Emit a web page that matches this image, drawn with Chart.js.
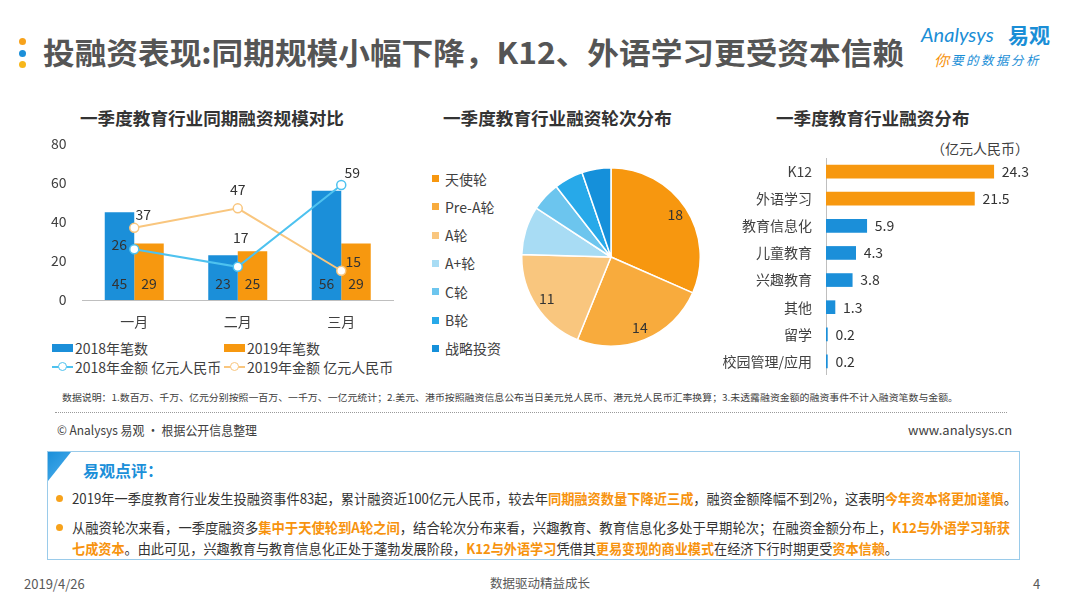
<!DOCTYPE html>
<html><head><meta charset="utf-8">
<script src="https://cdn.jsdelivr.net/npm/chart.js@4.4.0/dist/chart.umd.min.js"></script>
<style>
html,body{margin:0;padding:0;width:1080px;height:607px;background:#fff;overflow:hidden;font-family:"Noto Sans CJK SC","Noto Sans",sans-serif;color:#404040;}
.a{position:absolute;white-space:nowrap;line-height:1;}
.vc{transform-origin:left center;}
.dot{position:absolute;width:7px;height:7px;border-radius:50%;}
.sub{font-weight:bold;font-size:17.6px;color:#333;}
.hl{color:#F7930E;font-weight:bold;}
canvas{position:absolute;}
</style></head><body>

<!-- header -->
<div class="dot" style="left:19px;top:38px;background:#F7A21B"></div>
<div class="dot" style="left:19px;top:50px;background:#1B8FD9"></div>
<div class="dot" style="left:19px;top:61px;background:#F7B71B"></div>
<div id="title" class="a" style="left:43px;top:36px;font-size:30px;font-weight:bold;color:#555;">投融资表现:同期规模小幅下降，K12、外语学习更受资本信赖</div>
<div class="a" style="left:921px;top:24px;font-size:20px;color:#1A8ED6;font-style:italic;font-family:'Lato','Noto Sans',sans-serif;">Analysys</div>
<div class="a" style="left:1008px;top:24px;font-size:21px;color:#1A8ED6;font-weight:bold;">易观</div>
<div class="a" style="left:934px;top:52px;font-size:15px;color:#F7930E;font-style:italic;">你</div>
<div class="a" style="left:951px;top:54px;font-size:12.5px;color:#1A8ED6;font-style:italic;letter-spacing:2.5px;">要的数据分析</div>

<!-- subtitles -->
<div class="a sub" style="left:80px;top:109px;">一季度教育行业同期融资规模对比</div>
<div class="a sub" style="left:443px;top:109px;">一季度教育行业融资轮次分布</div>
<div class="a sub" style="left:776px;top:109px;">一季度教育行业融资分布</div>

<canvas id="cLeft" width="360" height="200" style="left:40px;top:136px;width:360px;height:200px"></canvas>
<div id="legLeft"></div>
<canvas id="cPie" width="180" height="180" style="left:521px;top:167px;width:180px;height:180px"></canvas>
<div id="legPie"></div>
<div class="a" style="left:931px;top:141px;font-size:14px;color:#404040;">（亿元人民币）</div>
<canvas id="cRight" width="340" height="217" style="left:700px;top:158px;width:340px;height:217px"></canvas>

<!-- notes -->
<div id="note" class="a vc" style="left:62px;top:393px;font-size:9.5px;color:#404040;">数据说明：1.数百万、千万、亿元分别按照一百万、一千万、一亿元统计；2.美元、港币按照融资信息公布当日美元兑人民币、港元兑人民币汇率换算；3.未透露融资金额的融资事件不计入融资笔数与金额。</div>
<div style="position:absolute;left:55px;top:412px;width:952px;border-top:1px dotted #9a9a9a;"></div>
<div id="src" class="a vc" style="left:57px;top:423px;font-size:13px;color:#404040;">© Analysys 易观 · 根据公开信息整理</div>
<div id="www" class="a" style="left:908px;top:423px;font-size:13px;color:#404040;">www.analysys.cn</div>

<!-- comment box -->
<div style="position:absolute;left:47px;top:451px;width:971px;height:107px;border:1.5px solid #9ACBEA;"></div>
<div style="position:absolute;left:48px;top:452px;width:23px;height:29px;background:linear-gradient(135deg,#1B8FD9 0%,#3AA3E6 60%,#9fd2f2 100%);clip-path:polygon(0 0,100% 0,0 100%);"></div>
<div id="cmt" class="a vc" style="left:83px;top:462px;font-size:16px;font-weight:bold;color:#1B8FD9;">易观点评：</div>
<div class="dot" style="left:56px;top:495px;background:#F7A21B"></div>
<div class="dot" style="left:56px;top:524px;background:#F7A21B"></div>
<div id="b1" class="a vc" style="left:72px;top:491px;font-size:14px;color:#333;">2019年一季度教育行业发生投融资事件83起，累计融资近100亿元人民币，较去年<span class="hl">同期融资数量下降近三成</span>，融资金额降幅不到2%，这表明<span class="hl">今年资本将更加谨慎</span>。</div>
<div id="b2" class="a vc" style="left:72px;top:520px;font-size:14px;color:#333;">从融资轮次来看，一季度融资多<span class="hl">集中于天使轮到A轮之间</span>，结合轮次分布来看，兴趣教育、教育信息化多处于早期轮次；在融资金额分布上，<span class="hl">K12与外语学习斩获</span></div>
<div id="b3" class="a vc" style="left:72px;top:541px;font-size:14px;color:#333;"><span class="hl">七成资本</span>。由此可见，兴趣教育与教育信息化正处于蓬勃发展阶段，<span class="hl">K12与外语学习</span>凭借其<span class="hl">更易变现的商业模式</span>在经济下行时期更受<span class="hl">资本信赖</span>。</div>

<!-- footer -->
<div class="a" style="left:24px;top:577px;font-size:13px;color:#595959;">2019/4/26</div>
<div class="a" style="left:490px;top:577px;font-size:12.5px;color:#595959;">数据驱动精益成长</div>
<div class="a" style="left:1033px;top:577px;font-size:13px;color:#595959;">4</div>

<script>
// ---------- data ----------
const months = ['一月','二月','三月'];
const count2018 = [45,23,56];
const count2019 = [29,25,29];
const amount2018 = [26,17,59];
const amount2019 = [37,47,15];
const seriesLabels = ['2018年笔数','2019年笔数','2018年金额 亿元人民币','2019年金额 亿元人民币'];
const leftTicks = [0,20,40,60,80];

const rounds = ['天使轮','Pre-A轮','A轮','A+轮','C轮','B轮','战略投资'];
const roundCounts = [18,14,11,5,3,3,3];

const sectors = ['K12','外语学习','教育信息化','儿童教育','兴趣教育','其他','留学','校园管理/应用'];
const sectorAmounts = [24.3,21.5,5.9,4.3,3.8,1.3,0.2,0.2];

// ---------- styles ----------
const BLUE='#1B8FD9', ORANGE='#F7980F', LBLUE='#4EC2EF', LORANGE='#F9C67E';
const pieColors=['#F7970F','#F8AB3D','#F9C67E','#A8DCF4','#6CC5EE','#27A9E9','#1590DA'];
const sectorColors=[ORANGE,ORANGE,BLUE,BLUE,BLUE,BLUE,BLUE,BLUE];
const lineOffsets=[[[-15,-5],[3,-29],[11,-12]],[[9,-13],[0,-19],[12,-9]]];
const FONT="'Noto Sans CJK SC','Noto Sans',sans-serif";
Chart.defaults.font.family=FONT;
Chart.defaults.color='#404040';
Chart.defaults.animation=false;
function noPad(s){s.paddingTop=0;s.paddingBottom=0;s.paddingLeft=0;s.paddingRight=0;}

// ---------- left chart ----------
const leftLabels={
  id:'leftLabels',
  afterDatasetsDraw(chart){
    const c=chart.ctx; c.save();
    c.font="14px "+FONT; c.fillStyle='#333'; c.textAlign='center'; c.textBaseline='middle';
    const bottom=chart.scales.y.getPixelForValue(0);
    chart.data.datasets.forEach((ds,di)=>{
      const meta=chart.getDatasetMeta(di);
      meta.data.forEach((el,i)=>{
        if(ds.type==='line'){
          const o=lineOffsets[di][i];
          c.fillText(String(ds.data[i]),el.x+o[0],el.y+o[1]);
        }else{
          c.fillText(String(ds.data[i]),el.x,bottom-16);
        }
      });
    });
    c.restore();
  }
};
new Chart(document.getElementById('cLeft'),{
  type:'bar',
  data:{labels:months,datasets:[
    {type:'line',label:seriesLabels[2],data:amount2018,borderColor:LBLUE,borderWidth:2,fill:false,tension:0,pointRadius:4.5,pointBorderWidth:1.5,pointBackgroundColor:'#fff',pointBorderColor:LBLUE,order:0},
    {type:'line',label:seriesLabels[3],data:amount2019,borderColor:LORANGE,borderWidth:2,fill:false,tension:0,pointRadius:4.5,pointBorderWidth:1.5,pointBackgroundColor:'#fff',pointBorderColor:LORANGE,order:0},
    {label:seriesLabels[0],data:count2018,backgroundColor:BLUE,barPercentage:1,categoryPercentage:0.57,order:1},
    {label:seriesLabels[1],data:count2019,backgroundColor:ORANGE,barPercentage:1,categoryPercentage:0.57,order:1}
  ]},
  options:{responsive:false,devicePixelRatio:1,
    layout:{autoPadding:false,padding:{top:8,right:7,left:0,bottom:0}},
    plugins:{legend:{display:false},tooltip:{enabled:false}},
    scales:{
      x:{grid:{display:false,drawTicks:false},border:{display:true,color:'#bfbfbf'},ticks:{font:{size:14},color:'#404040',padding:13},
         afterFit(s){s.height=36;noPad(s);}},
      y:{min:0,max:80,afterBuildTicks(s){s.ticks=leftTicks.map(v=>({value:v}));},
         grid:{display:false,drawTicks:false},border:{display:false},ticks:{font:{size:14},color:'#404040',padding:16},
         afterFit(s){s.width=42.5;noPad(s);}}
    }
  },
  plugins:[leftLabels]
});
// left legend (html, from series labels)
(function(){
  const L=document.getElementById('legLeft');
  const pos=[[52,348],[224,348],[52,367],[224,367]];
  const cols=[BLUE,ORANGE,LBLUE,LORANGE];
  seriesLabels.forEach((t,i)=>{
    const [x,y]=pos[i];
    let m='';
    if(i<2) m=`<div style="position:absolute;left:${x}px;top:${y-4}px;width:21px;height:8px;background:${cols[i]}"></div>`;
    else m=`<div style="position:absolute;left:${x}px;top:${y-1}px;width:21px;height:2px;background:${cols[i]}"></div><div style="position:absolute;left:${x+6}px;top:${y-5}px;width:7px;height:7px;border-radius:50%;border:1.5px solid ${cols[i]};background:#fff"></div>`;
    L.insertAdjacentHTML('beforeend',m+`<div class="a" style="left:${x+23}px;top:${y-7}px;font-size:14px;color:#404040;">${t}</div>`);
  });
})();

// ---------- pie ----------
const pieLabels={
  id:'pieLabels',
  afterDatasetsDraw(chart){
    const c=chart.ctx; c.save();
    c.font="14px "+FONT; c.fillStyle='#333'; c.textAlign='center'; c.textBaseline='middle';
    const meta=chart.getDatasetMeta(0);
    meta.data.forEach((a,i)=>{
      const v=chart.data.datasets[0].data[i];
      if(v<10) return;
      const m=(a.startAngle+a.endAngle)/2, r=a.outerRadius*0.86;
      c.fillText(String(v),a.x+Math.cos(m)*r,a.y+Math.sin(m)*r);
    });
    c.restore();
  }
};
new Chart(document.getElementById('cPie'),{
  type:'pie',
  data:{labels:rounds,datasets:[{data:roundCounts,backgroundColor:pieColors,borderColor:'#fff',borderWidth:1.5}]},
  options:{responsive:false,devicePixelRatio:1,layout:{padding:0},plugins:{legend:{display:false},tooltip:{enabled:false}}},
  plugins:[pieLabels]
});
(function(){
  const L=document.getElementById('legPie');
  rounds.forEach((t,i)=>{
    const y=179+i*28.3;
    L.insertAdjacentHTML('beforeend',`<div style="position:absolute;left:432px;top:${y-4}px;width:7px;height:7px;background:${pieColors[i]}"></div><div class="a" style="left:445px;top:${y-7.5}px;font-size:14px;color:#404040;">${t}</div>`);
  });
})();

// ---------- right bar ----------
const rightLabels={
  id:'rightLabels',
  afterDatasetsDraw(chart){
    const c=chart.ctx; c.save();
    c.font="14px "+FONT; c.fillStyle='#333'; c.textAlign='left'; c.textBaseline='middle';
    chart.getDatasetMeta(0).data.forEach((b,i)=>{
      c.fillText(String(chart.data.datasets[0].data[i]),b.x+8,b.y);
    });
    c.restore();
  }
};
new Chart(document.getElementById('cRight'),{
  type:'bar',
  data:{labels:sectors,datasets:[{data:sectorAmounts,backgroundColor:sectorColors,barThickness:13}]},
  options:{indexAxis:'y',responsive:false,devicePixelRatio:1,layout:{autoPadding:false,padding:0},
    plugins:{legend:{display:false},tooltip:{enabled:false}},
    scales:{
      x:{display:false,min:0,max:31,afterFit(s){noPad(s);}},
      y:{grid:{display:false,drawTicks:false},border:{display:true,color:'#bfbfbf'},ticks:{font:{size:14},color:'#404040',padding:14},
         afterFit(s){s.width=126;noPad(s);}}
    }
  },
  plugins:[rightLabels]
});

// ---------- fit text widths ----------
function fit(id,w){const e=document.getElementById(id);const r=e.getBoundingClientRect().width;e.style.transform=`scaleX(${w/r})`;e.style.transformOrigin='left center';}
fit('title',861);
fit('note',896);
fit('src',200);
fit('b1',945);
fit('b2',938);
fit('b3',826);
</script>
</body></html>
